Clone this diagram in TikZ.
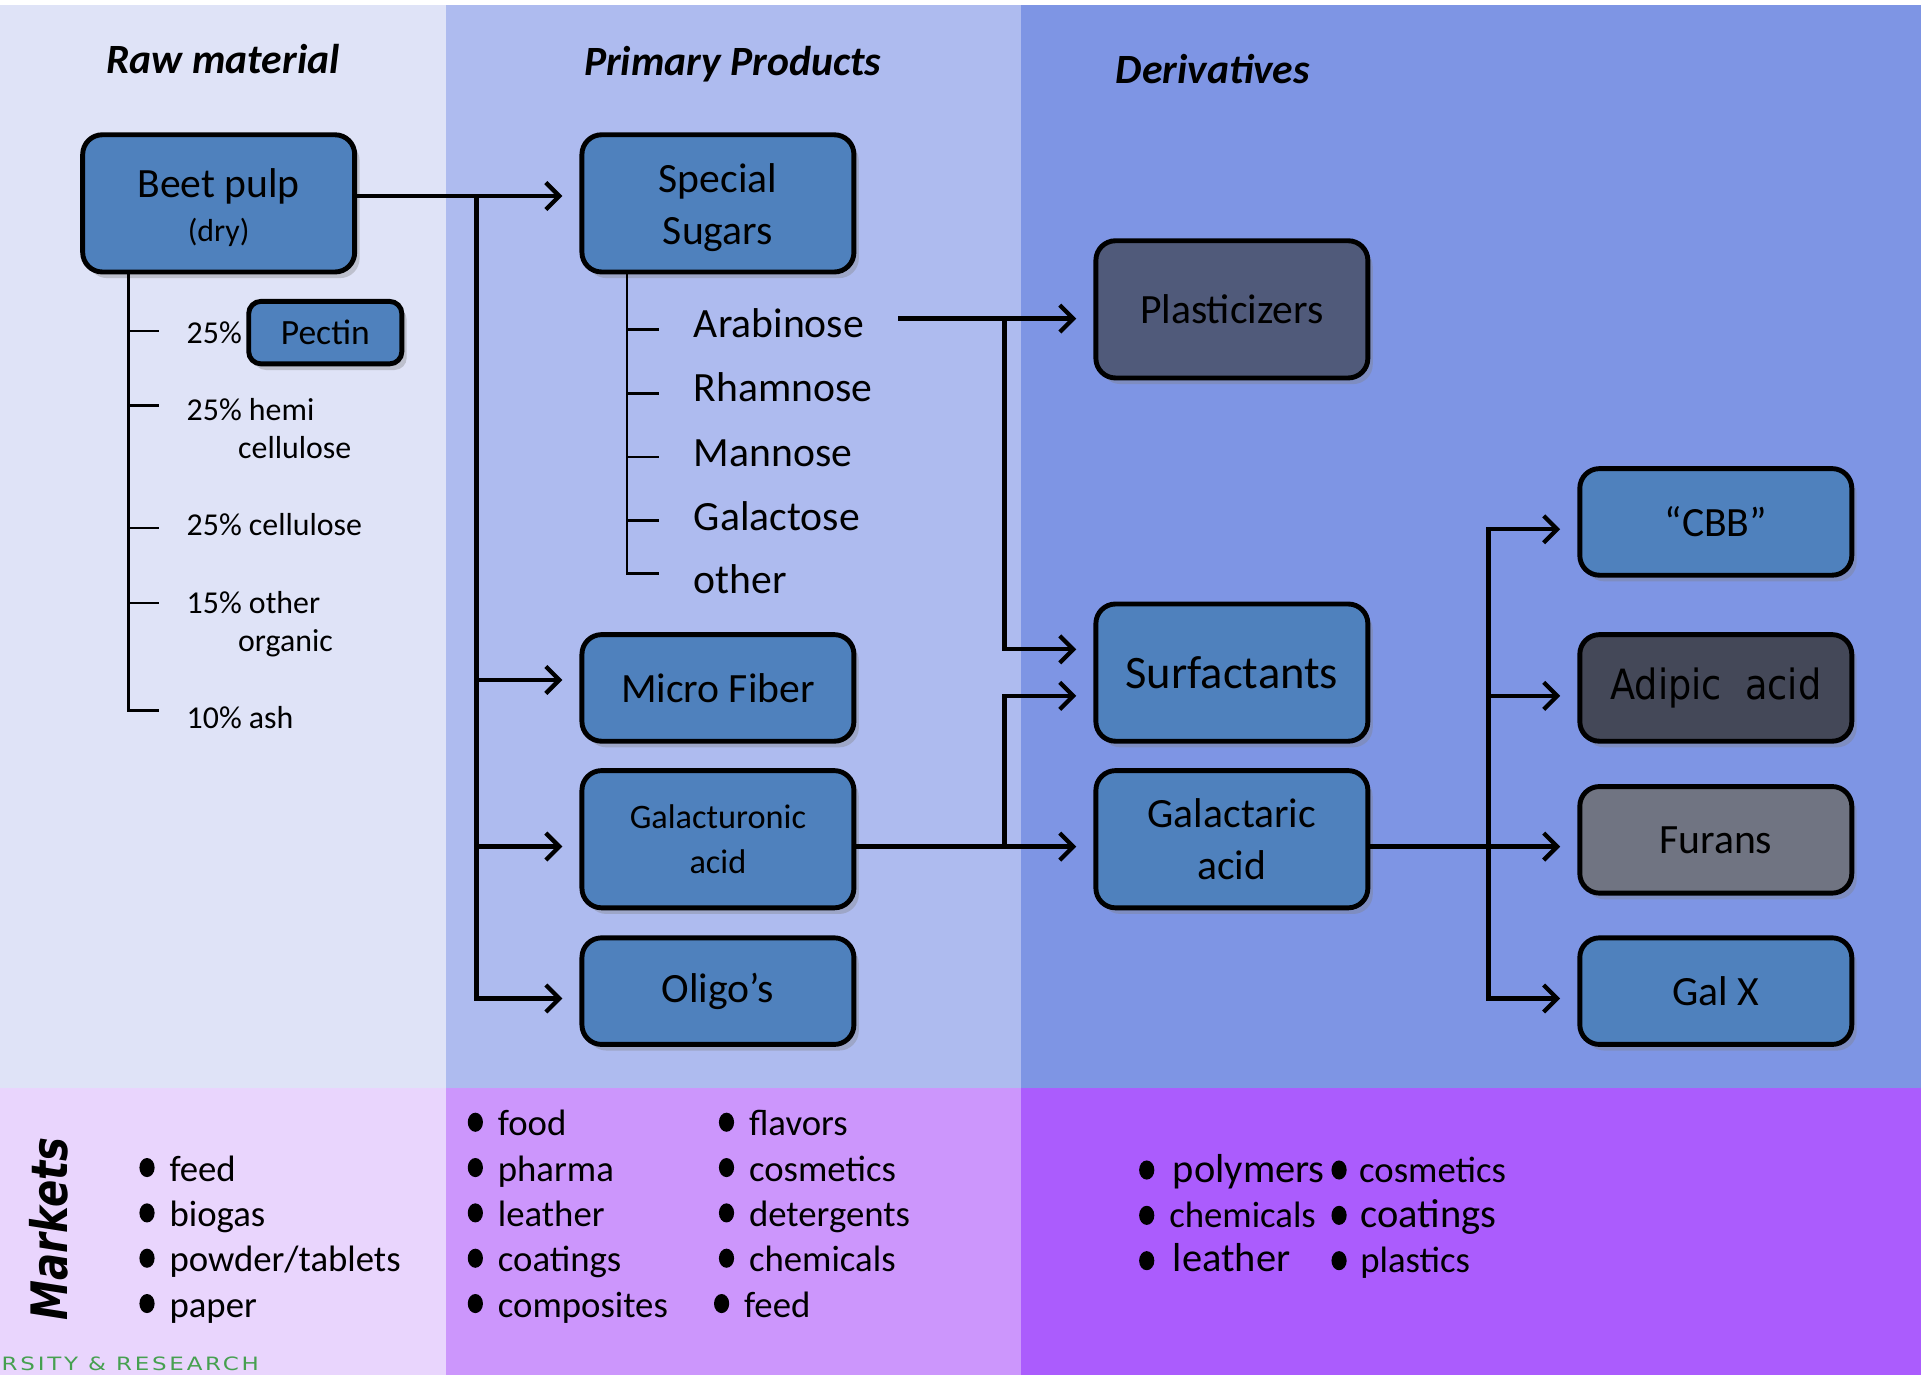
\documentclass[tikz,border=0pt]{standalone}
\usepackage{fontspec}
\usepackage{graphicx}
\setmainfont{Carlito}
\newfontfamily\mkfont{DejaVu Sans}
\newfontfamily\wurfont[LetterSpace=12]{DejaVu Sans}
\usetikzlibrary{arrows.meta,shadows}
\definecolor{bgA}{RGB}{223,227,247}
\definecolor{bgB}{RGB}{174,187,239}
\definecolor{bgC}{RGB}{126,149,228}
\definecolor{mkA}{RGB}{233,213,253}
\definecolor{mkB}{RGB}{204,150,252}
\definecolor{mkC}{RGB}{171,92,253}
\definecolor{boxblue}{RGB}{79,129,189}
\definecolor{boxslate}{RGB}{80,90,122}
\definecolor{boxdark}{RGB}{68,72,88}
\definecolor{boxgray}{RGB}{112,116,130}
\definecolor{wurgreen}{RGB}{70,160,80}
\begin{document}
\begin{tikzpicture}[x=0.5pt,y=-0.5pt,
  box/.style={draw=black, line width=2pt, rounded corners=8pt, fill=boxblue,
    align=center, inner sep=2pt, minimum width=111pt,
    drop shadow={shadow xshift=2pt, shadow yshift=-2.5pt, opacity=0.35},
    font=\fontsize{17}{21}\selectfont},
  tall/.style={minimum height=56pt},
  short/.style={minimum height=43.5pt},
  conn/.style={line width=1.75pt, line cap=rect},
  arr/.style={conn, -{Straight Barb[length=5.5pt,width=11pt]}, shorten >=7pt},
  tree/.style={line width=1pt},
  head/.style={font=\fontsize{17}{20}\selectfont\bfseries\itshape},
  lbl/.style={anchor=west, inner sep=0pt, yshift=-2.2pt, font=\fontsize{13}{15}\selectfont, text height=0.7em, text depth=0.2em},
  sug/.style={anchor=west, inner sep=0pt, yshift=-3.3pt, font=\fontsize{17}{20}\selectfont, text height=0.7em, text depth=0.2em},
  mk/.style={anchor=west, inner sep=0pt, yshift=-3pt, font=\fontsize{15}{18}\selectfont, text height=0.7em, text depth=0.2em},
  mkbig/.style={mk, font=\fontsize{16.5}{19}\selectfont},
  bul/.style={fill=black}
]
\useasboundingbox (0,0) rectangle (1568,1126);
% backgrounds
\fill[white] (0,0) rectangle (1568,1126);
\fill[bgA] (0,4) rectangle (364,888);
\fill[bgB] (364,4) rectangle (833,888);
\fill[bgC] (833,4) rectangle (1568,888);
\fill[mkA] (0,888) rectangle (364,1122);
\fill[mkB] (364,888) rectangle (833,1122);
\fill[mkC] (833,888) rectangle (1568,1122);

% headers
\node[head] (hraw) at (182,48) {Raw material};
\node[head] (hprim) at (598,52) {Primary Products};
\node[head] (hder) at (990,56) {Derivatives};

% boxes
\node[box,tall] (beet) at (178.5,166) {\raisebox{-2.5pt}[\height][\depth]{\begin{tabular}{@{}c@{}}Beet pulp\\[-3pt]{\fontsize{13}{15}\selectfont (dry)}\end{tabular}}};
\node[box, minimum width=62.5pt, minimum height=25.5pt, rounded corners=5pt, font=\fontsize{14.5}{17}\selectfont] (pectin) at (265.5,271.5) {Pectin};
\node[box,tall] (sugars) at (586,166) {\raisebox{-2pt}[\height][\depth]{\begin{tabular}{@{}c@{}}Special\\Sugars\end{tabular}}};
\node[box,short] (micro) at (586,561.5) {Micro Fiber};
\node[box,tall,font=\fontsize{14}{18.5}\selectfont] (galu) at (586,685) {Galacturonic\\acid};
\node[box,short] (oligo) at (586,809) {Oligo’s};
\node[box,tall,fill=boxslate] (plast) at (1005.5,252.5) {Plasticizers};
\node[box,tall,font=\fontsize{19}{22}\selectfont] (surf) at (1005.5,549) {Surfactants};
\node[box,tall] (galr) at (1005.5,685) {Galactaric\\acid};
\node[box,short] (cbb) at (1400.5,426) {“CBB”};
\node[box,short,fill=boxdark,font=\mkfont\fontsize{17}{20}\selectfont] (adipic) at (1400.5,561.5) {\scalebox{0.88}[1]{Adipic\ \ acid}};
\node[box,short,fill=boxgray] (furans) at (1400.5,685.5) {Furans};
\node[box,short] (galx) at (1400.5,809) {Gal X};

% raw material tree
\coordinate (tl) at (105,580);
\draw[tree] (beet.south -| tl) -- (tl) -- ++(25,0);
\foreach \yy in {270,331,431,492} \draw[tree] (105,\yy) -- ++(25,0);
\node[lbl] (p1) at (152,271) {25\%};
\node[lbl] (p2) at (152,334) {25\% hemi};
\node[lbl] (p2b) at (194,365) {cellulose};
\node[lbl] (p3) at (152,428) {25\% cellulose};
\node[lbl] (p4) at (152,491) {15\% other};
\node[lbl] (p4b) at (194,522) {organic};
\node[lbl] (p5) at (152,585) {10\% ash};

% sugars tree
\coordinate (ts) at (512,468);
\draw[tree] (sugars.south -| ts) -- (ts) -- ++(26,0);
\foreach \yy in {269,321,373,425} \draw[tree] (512,\yy) -- ++(26,0);
\node[sug] (arab) at (566,264) {Arabinose};
\node[sug] (rham) at (566,316) {Rhamnose};
\node[sug] (mann) at (566,369) {Mannose};
\node[sug] (gala) at (566,421) {Galactose};
\node[sug] (oth) at (566,473) {other};

% connectors from beet pulp
\coordinate (j0) at (389,160);
\coordinate (j1) at (389,555);
\coordinate (j2) at (389,691);
\coordinate (j3) at (389,815);
\draw[arr] (beet.east |- j0) -- (sugars.west |- j0);
\draw[conn] (j0) -- (j3);
\draw[arr] (j1) -- (micro.west |- j1);
\draw[arr] (j2) -- (galu.west |- j2);
\draw[arr] (j3) -- (oligo.west |- j3);

% to derivatives
\coordinate (k0) at (735,260);
\coordinate (k1) at (820,260);
\coordinate (k2) at (820,530);
\coordinate (k3) at (820,568);
\coordinate (k4) at (820,691);
\draw[arr] (k0) -- (plast.west |- k0);
\draw[arr] (k1) -- (k2) -- (surf.west |- k2);
\draw[arr] (galu.east |- k4) -- (galr.west |- k4);
\draw[arr] (k4) -- (k3) -- (surf.west |- k3);

% galactaric branch
\coordinate (m0) at (1215,432);
\coordinate (m1) at (1215,568);
\coordinate (m2) at (1215,691);
\coordinate (m3) at (1215,815);
\draw[arr] (galr.east |- m2) -- (furans.west |- m2);
\draw[arr] (m3) -- (m0) -- (cbb.west |- m0);
\draw[arr] (m1) -- (adipic.west |- m1);
\draw[arr] (m0) -- (m3) -- (galx.west |- m3);

% markets
\node[rotate=90, inner sep=0pt] (mkt) at (40,1003) {\scalebox{0.8}[1]{\mkfont\fontsize{20.5}{24}\selectfont\bfseries\itshape Markets}};

\foreach \yy/\tt in {953/{feed},990/{biogas},1027/{powder/tablets},1064/{paper}}{
  \fill[bul] (120,\yy) ellipse (3.1pt and 3.9pt);
  \node[mk] at (138,\yy) {\tt};
}
\foreach \yy/\tt in {916/food,953/pharma,990/leather,1027/coatings,1064/composites}{
  \fill[bul] (388,\yy) ellipse (3.1pt and 3.9pt);
  \node[mk] at (406,\yy) {\tt};
}
\foreach \yy/\tt in {916/flavors,953/cosmetics,990/detergents,1027/chemicals}{
  \fill[bul] (593,\yy) ellipse (3.1pt and 3.9pt);
  \node[mk] at (611,\yy) {\tt};
}
\fill[bul] (589,1064) ellipse (3.1pt and 3.9pt);
\node[mk] (mfeed) at (607,1064) {feed};

\fill[bul] (936,955) ellipse (3.1pt and 3.9pt);
\node[mkbig] (mpoly) at (957,954) {polymers};
\fill[bul] (936,992) ellipse (3.1pt and 3.9pt);
\node[mk] (mchem) at (954,991) {chemicals};
\fill[bul] (936,1029) ellipse (3.1pt and 3.9pt);
\node[mkbig] (mleat) at (957,1027) {leather};
\fill[bul] (1093,955) ellipse (3.1pt and 3.9pt);
\node[mk] (mcos) at (1109,954) {cosmetics};
\fill[bul] (1093,992) ellipse (3.1pt and 3.9pt);
\node[mkbig] (mcoat) at (1110,991) {coatings};
\fill[bul] (1093,1029) ellipse (3.1pt and 3.9pt);
\node[mk] (mplas) at (1110,1028) {plastics};

\node[anchor=west, inner sep=0pt, text=wurgreen] (wur) at (1,1113) {\scalebox{1.25}[1]{\wurfont\fontsize{7.5}{9}\selectfont RSITY \& RESEARCH}};
\end{tikzpicture}
\end{document}
